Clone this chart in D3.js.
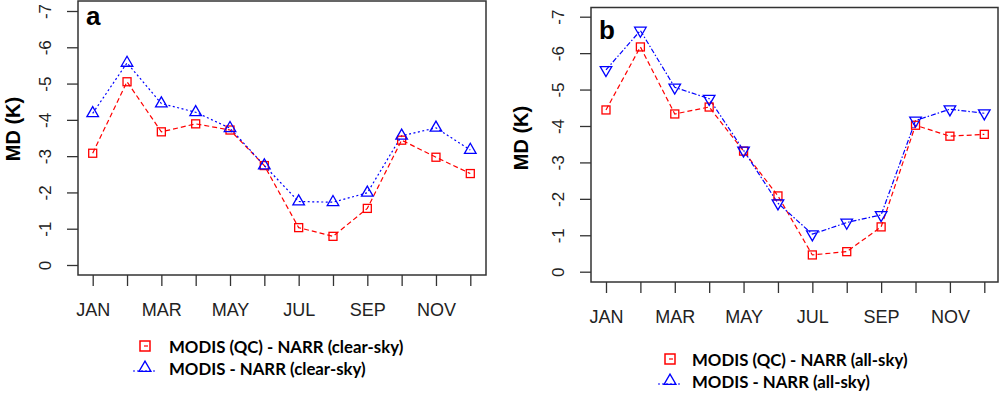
<!DOCTYPE html>
<html>
<head>
<meta charset="utf-8">
<script src="https://cdn.jsdelivr.net/npm/d3@7"></script>
<style>
  body { margin: 0; background: #fff; }
  svg { display: block; }
</style>
</head>
<body>
<div id="chart"></div>
<script>
// data
var months = ["JAN","FEB","MAR","APR","MAY","JUN","JUL","AUG","SEP","OCT","NOV","DEC"];
var yTicks = [0,-1,-2,-3,-4,-5,-6,-7];
var qcClear  = [-3.08,-5.05,-3.67,-3.89,-3.72,-2.74,-1.03,-0.79,-1.56,-3.44,-2.97,-2.52];
var allClear = [-4.18,-5.57,-4.45,-4.21,-3.77,-2.74,-1.75,-1.73,-1.99,-3.56,-3.78,-3.17];
var qcAll    = [-4.44,-6.17,-4.33,-4.52,-3.31,-2.08,-0.46,-0.55,-1.23,-4.02,-3.72,-3.77];
var allAll   = [-5.54,-6.62,-5.06,-4.75,-3.33,-1.88,-1.03,-1.35,-1.56,-4.15,-4.46,-4.35];
var legendA = ["MODIS (QC) - NARR (clear-sky)", "MODIS - NARR (clear-sky)"];
var legendB = ["MODIS (QC) - NARR (all-sky)", "MODIS - NARR (all-sky)"];

var svg = d3.select("#chart").append("svg").attr("width", 1000).attr("height", 393);

var red = "#ff0000", blue = "#0000ff";

function drawPanel(p) {
    var x = d3.scaleLinear().domain([0, 11]).range([p.x0, p.x1]);
    var y = d3.scaleLinear().domain([0, -7]).range([p.y0, p.y1]);

    // box
    svg.append("rect")
       .attr("x", p.left).attr("y", p.top)
       .attr("width", p.right - p.left).attr("height", p.bottom - p.top)
       .attr("fill", "none").attr("stroke", "#333").attr("stroke-width", 1.5);

    var ya = svg.append("g")
        .attr("transform", "translate(" + p.left + ",0)")
        .call(d3.axisLeft(y).tickValues(yTicks).tickSize(11).tickFormat(function(d) { return d; }));
    ya.select(".domain").remove();
    ya.selectAll("line").attr("stroke", "#333").attr("stroke-width", 1.3);
    ya.selectAll("text")
      .attr("x", null).attr("dy", "0.36em")
      .attr("transform", "translate(-33,0) rotate(-90)")
      .attr("text-anchor", "middle")
      .attr("font-family", "Liberation Sans, Arial, sans-serif")
      .attr("font-size", "17px").attr("fill", "#222");

    var xa = svg.append("g")
        .attr("transform", "translate(0," + p.bottom + ")")
        .call(d3.axisBottom(x).tickValues(d3.range(12)).tickSize(11)
              .tickFormat(function(d) { return d % 2 == 0 ? months[d] : ""; }));
    xa.select(".domain").remove();
    xa.selectAll("line").attr("stroke", "#333").attr("stroke-width", 1.3);
    xa.selectAll("text")
      .attr("y", 41).attr("dy", null)
      .attr("font-family", "Liberation Sans, Arial, sans-serif")
      .attr("font-size", "18px").attr("fill", "#222");

    // y title
    svg.append("text")
       .attr("transform", "translate(" + p.titleX + "," + p.titleY + ") rotate(-90)")
       .attr("text-anchor", "middle").attr("dy", "0.35em")
       .attr("font-family", "Liberation Sans, Arial, sans-serif")
       .attr("font-weight", "bold").attr("font-size", "20px")
       .text("MD (K)");

    svg.append("text")
       .attr("x", p.left + 8).attr("y", p.top + p.letterDy)
       .attr("font-family", "Liberation Sans, Arial, sans-serif")
       .attr("font-weight", "bold").attr("font-size", "26px")
       .text(p.letter);

    var line = d3.line().x(function(d, i) { return x(i); }).y(function(d) { return y(d); });

    svg.append("path").datum(p.red)
       .attr("d", line).attr("fill", "none")
       .attr("stroke", red).attr("stroke-width", 1.2).attr("stroke-dasharray", "5,3");
    svg.append("path").datum(p.blue)
       .attr("d", line).attr("fill", "none")
       .attr("stroke", blue).attr("stroke-width", 1.2).attr("stroke-dasharray", p.blueDash);

    svg.selectAll(null).data(p.red).enter().append("rect")
       .attr("x", function(d, i) { return x(i) - 4; })
       .attr("y", function(d) { return y(d) - 4; })
       .attr("width", 8).attr("height", 8)
       .attr("fill", "none").attr("stroke", red).attr("stroke-width", 1.3);

    var tri = d3.symbol().type(d3.symbolTriangle).size(58);
    svg.selectAll(null).data(p.blue).enter().append("path")
       .attr("d", tri)
       .attr("transform", function(d, i) {
           return "translate(" + x(i) + "," + y(d) + ")" + (p.down ? " rotate(180)" : "");
       })
       .attr("fill", "none").attr("stroke", blue).attr("stroke-width", 1.3);

    // legend
    var lg = p.legend;
    svg.append("rect")
       .attr("x", lg.mx - 5).attr("y", lg.y1 - 6).attr("width", 10).attr("height", 10)
       .attr("fill", "none").attr("stroke", red).attr("stroke-width", 1.5);
    svg.append("line")
       .attr("x1", lg.mx - 1).attr("x2", lg.mx + 3).attr("y1", lg.y1 - 1).attr("y2", lg.y1 - 1)
       .attr("stroke", red).attr("stroke-width", 1.2);
    svg.append("line")
       .attr("x1", lg.mx - 12).attr("x2", lg.mx + 12).attr("y1", lg.y2 + 2).attr("y2", lg.y2 + 2)
       .attr("stroke", blue).attr("stroke-width", 1.2).attr("stroke-dasharray", "2,2");
    svg.append("path")
       .attr("d", d3.symbol().type(d3.symbolTriangle).size(62))
       .attr("transform", "translate(" + lg.mx + "," + (lg.y2 - 1) + ")")
       .attr("fill", "none").attr("stroke", blue).attr("stroke-width", 1.3);
    [lg.y1, lg.y2].forEach(function(yy, i) {
        svg.append("text")
           .attr("x", lg.tx).attr("y", yy).attr("dy", "0.35em")
           .attr("font-family", "Lato, Open Sans, sans-serif")
           .attr("font-weight", "bold").attr("font-size", "16.8px")
           .text(p.labels[i]);
    });
}

drawPanel({
    left: 78, top: 1, right: 486, bottom: 275,
    x0: 92.7, x1: 470.3, y0: 265, y1: 11,
    titleX: 13, titleY: 129, letter: "a", letterDy: 24,
    red: qcClear, blue: allClear, blueDash: "2,2.5", down: false,
    labels: legendA,
    legend: { mx: 145, tx: 169, y1: 347, y2: 369 }
});

drawPanel({
    left: 591, top: 7.5, right: 998, bottom: 282,
    x0: 606, x1: 984.3, y0: 271.7, y1: 16.7,
    titleX: 521, titleY: 138, letter: "b", letterDy: 31,
    red: qcAll, blue: allAll, blueDash: "5,2,1.5,2", down: true,
    labels: legendB,
    legend: { mx: 670, tx: 692, y1: 360, y2: 382 }
});
</script>
</body>
</html>
